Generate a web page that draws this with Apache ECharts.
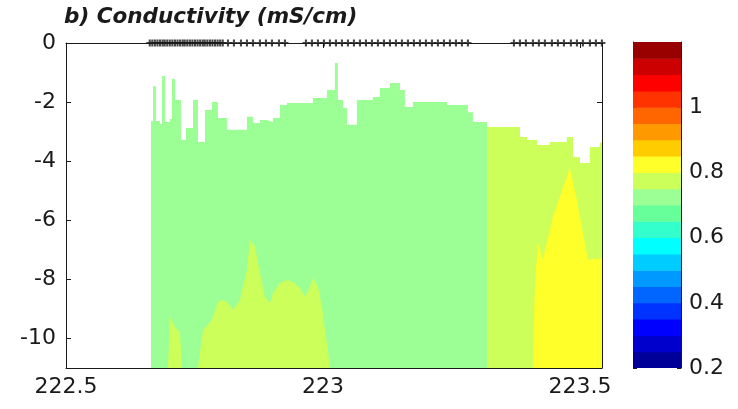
<!DOCTYPE html>
<html>
<head>
<meta charset="utf-8">
<script src="https://cdn.jsdelivr.net/npm/echarts@6/dist/echarts.min.js"></script>
<style>
  html, body { margin: 0; padding: 0; background: #fff; }
  #chart { width: 738px; height: 409px; }
</style>
</head>
<body>
<div id="chart"></div>
<script>
// Axis ticks
const xTicks = [222.5, 223, 223.5];
const depthTicks = [0, -2, -4, -6, -8, -10];
const cbTicks = [0.2, 0.4, 0.6, 0.8, 1];

// Contour levels (mS/cm) and their fill colours (jet, 20 steps)
const levels = [0.2, 0.25, 0.3, 0.35, 0.4, 0.45, 0.5, 0.55, 0.6, 0.65, 0.7,
                0.75, 0.8, 0.85, 0.9, 0.95, 1.0, 1.05, 1.1, 1.15, 1.2];
const palette = ['#000099', '#0000cc', '#0000ff', '#0033ff', '#0066ff',
                 '#0099ff', '#00ccff', '#00ffff', '#33ffcc', '#66ff99',
                 '#9cff96', '#ccff5a', '#ffff2a', '#ffcc00', '#ff9900',
                 '#ff6600', '#ff3300', '#ff0000', '#cc0000', '#990000'];

// Upper edge of the measured section (start of each cast column, depth in m)
const surfaceX = [222.6654, 222.6693, 222.6751, 222.6829, 222.6868, 222.6926,
  222.7023, 222.7062, 222.7121, 222.7237, 222.7335, 222.7471, 222.7568,
  222.7704, 222.7840, 222.7957, 222.8132, 222.8521, 222.8638, 222.8774,
  222.8911, 222.9027, 222.9163, 222.9300, 222.9805, 223.0078, 223.0233,
  223.0292, 223.0389, 223.0467, 223.0661, 223.0973, 223.1109, 223.1304,
  223.1498, 223.1595, 223.1751, 223.2412, 223.2821, 223.2918, 223.3191,
  223.3833, 223.3969, 223.4163, 223.4416, 223.4747, 223.4864, 223.5000,
  223.5195, 223.5389, 223.5450];
const surfaceDepth = [-2.64, -1.46, -2.64, -2.74, -1.12, -2.67,
  -2.57, -1.22, -1.93, -3.28, -2.88, -1.93, -3.35,
  -2.27, -2.00, -2.54, -2.94, -2.50, -2.71, -2.61,
  -2.67, -2.54, -2.10, -2.03, -1.86, -1.59, -0.68,
  -1.93, -2.20, -2.77, -1.93, -1.83, -1.52, -1.35,
  -1.59, -2.17, -2.00, -2.10, -2.34, -2.67, -2.84,
  -3.18, -3.28, -3.45, -3.35, -3.18, -3.86, -4.06,
  -3.52, -3.38, -3.38];

// 0.75-0.80 band: two patches near the bottom on the western side
const bandAX = [222.6984, 222.7023, 222.7121, 222.7218, 222.7257];
const bandADepth = [-11, -9.27, -9.61, -9.81, -11];
const bandBX = [222.7568, 222.7665, 222.7840, 222.7957, 222.8054, 222.8152,
  222.8249, 222.8385, 222.8521, 222.8580, 222.8677, 222.8735, 222.8872,
  222.8969, 222.9027, 222.9163, 222.9300, 222.9416, 222.9553, 222.9650,
  222.9747, 222.9805, 222.9903, 222.9981, 223.0039, 223.0097, 223.0136];
const bandBDepth = [-11, -9.71, -9.37, -8.76, -8.70, -8.80,
  -9.04, -8.70, -7.68, -6.67, -6.90, -7.45, -8.60,
  -8.80, -8.46, -8.12, -8.02, -8.09, -8.29, -8.60,
  -8.26, -7.95, -8.26, -8.93, -9.71, -10.39, -11];
// ...and the eastern block from this position to the end of the section
const bandEastStart = 223.3191;

// 0.80-0.85 band on the eastern side
const yellowX = [223.4086, 223.4125, 223.4183, 223.4280, 223.4475, 223.4805,
  223.4942, 223.5058, 223.5156, 223.5450];
const yellowDepth = [-11, -8.12, -6.77, -7.34, -5.89, -4.23,
  -5.31, -6.43, -7.34, -7.28];

// Cast positions marked along the surface
const castX = [
  222.663, 222.668, 222.673, 222.678, 222.683, 222.688, 222.692, 222.697,
  222.702, 222.707, 222.712, 222.717, 222.722, 222.727, 222.731, 222.736,
  222.741, 222.746, 222.751, 222.756, 222.761, 222.766, 222.770, 222.775,
  222.780, 222.785, 222.790, 222.795, 222.800, 222.805,
  222.8152, 222.8268, 222.8405, 222.8521, 222.8638, 222.8774, 222.8891,
  222.9008, 222.9144, 222.9261,
  222.9669, 222.9786, 222.9903, 223.0019, 223.0136, 223.0253, 223.0370,
  223.0486, 223.0603, 223.0720, 223.0837, 223.0953, 223.1070, 223.1187,
  223.1304, 223.1420, 223.1537, 223.1654, 223.1770, 223.1887, 223.2004,
  223.2121, 223.2237, 223.2354, 223.2471, 223.2588, 223.2704, 223.2821,
  223.3716, 223.3833, 223.3949, 223.4086, 223.4202, 223.4319, 223.4455,
  223.4572, 223.4689, 223.4825, 223.4942, 223.5058, 223.5195, 223.5311,
  223.5428];

const FONT = 'DejaVu Sans';
const INK = '#1a1a1a';

function colourOf(value) {
  for (let i = 0; i < levels.length - 1; i++) {
    if (value >= levels[i] && value < levels[i + 1]) return palette[i];
  }
  return palette[palette.length - 1];
}

const pairs = (xs, ys) => xs.map((x, i) => [x, ys[i]]);
const surfacePts = pairs(surfaceX, surfaceDepth);
const eastPts = surfacePts.filter(p => p[0] >= bandEastStart);

function areaSeries(name, data, colour, step) {
  return {
    name, type: 'line', xAxisIndex: 0, yAxisIndex: 0,
    data, step: step || false, showSymbol: false, silent: true,
    lineStyle: { width: 0, opacity: 0 },
    areaStyle: { color: colour, opacity: 1, origin: 'start' },
    animation: false
  };
}

const tickStyle = { lineStyle: { color: INK, width: 1 } };
const labelStyle = { fontFamily: FONT, fontSize: 22, color: INK };

const chart = echarts.init(document.getElementById('chart'), null, { renderer: 'canvas' });
chart.setOption({
  backgroundColor: '#fff',
  animation: false,
  title: {
    text: 'b) Conductivity (mS/cm)',
    left: 64, top: 6, padding: 0,
    textStyle: { fontFamily: FONT, fontSize: 21.5, fontWeight: 'bold', fontStyle: 'italic', color: INK }
  },
  grid: [
    { left: 66, top: 43, width: 536, height: 325, containLabel: false },
    { left: 633, top: 42, width: 48, height: 326, containLabel: false }
  ],
  xAxis: [
    { gridIndex: 0, type: 'value', min: 222.5, max: 223.543, position: 'bottom',
      axisLine: { show: true, onZero: false, lineStyle: { color: INK } },
      axisTick: { show: true, inside: true, length: 5, customValues: xTicks, ...tickStyle },
      axisLabel: { show: true, customValues: xTicks, margin: 8, formatter: v => String(v), ...labelStyle },
      splitLine: { show: false } },
    { gridIndex: 0, type: 'value', min: 222.5, max: 223.543, position: 'top',
      axisLine: { show: true, onZero: false, lineStyle: { color: INK } },
      axisTick: { show: true, inside: true, length: 5, customValues: xTicks, ...tickStyle },
      axisLabel: { show: false }, splitLine: { show: false } },
    { gridIndex: 1, type: 'value', min: 0, max: 1, show: false }
  ],
  yAxis: [
    { gridIndex: 0, type: 'value', min: -11, max: 0, position: 'left',
      axisLine: { show: true, onZero: false, lineStyle: { color: INK } },
      axisTick: { show: true, inside: true, length: 5, customValues: depthTicks, ...tickStyle },
      axisLabel: { show: true, customValues: depthTicks, margin: 10, ...labelStyle },
      splitLine: { show: false } },
    { gridIndex: 0, type: 'value', min: -11, max: 0, position: 'right',
      axisLine: { show: true, onZero: false, lineStyle: { color: INK } },
      axisTick: { show: true, inside: true, length: 5, customValues: depthTicks, ...tickStyle },
      axisLabel: { show: false }, splitLine: { show: false } },
    { gridIndex: 1, type: 'value', min: 0.2, max: 1.2, position: 'right',
      axisLine: { show: true, onZero: false, lineStyle: { color: INK } },
      axisTick: { show: true, inside: true, length: 4, customValues: cbTicks, ...tickStyle },
      axisLabel: { show: true, customValues: cbTicks, margin: 8, formatter: v => String(v), ...labelStyle },
      splitLine: { show: false } },
    { gridIndex: 1, type: 'value', min: 0.2, max: 1.2, position: 'left',
      axisLine: { show: true, onZero: false, lineStyle: { color: INK } },
      axisTick: { show: true, inside: true, length: 4, customValues: cbTicks, ...tickStyle },
      axisLabel: { show: false }, splitLine: { show: false } }
  ],
  series: [
    areaSeries('0.70-0.75', surfacePts, colourOf(0.72), 'end'),
    areaSeries('0.75-0.80 A', pairs(bandAX, bandADepth), colourOf(0.77)),
    areaSeries('0.75-0.80 B', pairs(bandBX, bandBDepth), colourOf(0.77)),
    areaSeries('0.75-0.80 east', eastPts, colourOf(0.77), 'end'),
    areaSeries('0.80-0.85', pairs(yellowX, yellowDepth), colourOf(0.82)),
    {
      name: 'casts', type: 'scatter', xAxisIndex: 0, yAxisIndex: 0,
      data: castX.map(x => [x, 0]),
      symbol: 'path://M3.5,0h3v3.5h3.5v3h-3.5v3.5h-3v-3.5h-3.5v-3h3.5z',
      symbolSize: 7, clip: false, silent: true,
      itemStyle: { color: INK }, z: 5
    },
    {
      name: 'colorbar', type: 'custom', xAxisIndex: 2, yAxisIndex: 2,
      data: palette.map((c, i) => [levels[i], levels[i + 1], i]),
      silent: true,
      renderItem: (params, api) => {
        const lo = api.value(0), hi = api.value(1);
        const p0 = api.coord([0, hi]);
        const p1 = api.coord([1, lo]);
        return {
          type: 'rect',
          shape: { x: p0[0], y: p0[1], width: p1[0] - p0[0], height: p1[1] - p0[1] + 0.5 },
          style: { fill: palette[api.value(2)], stroke: null }
        };
      },
      clip: true, z: 1
    }
  ]
});
</script>
</body>
</html>
